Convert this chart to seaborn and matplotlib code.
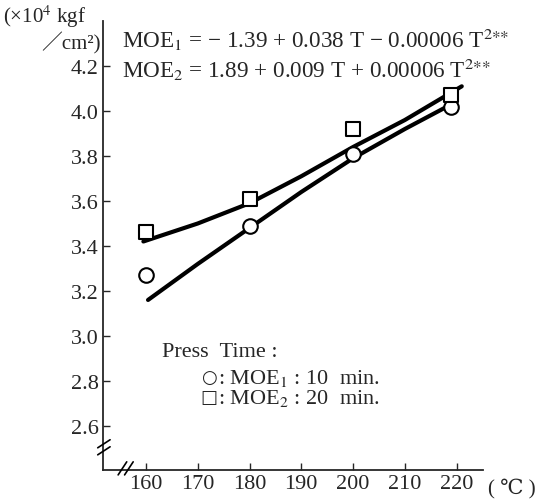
import pandas as pd
import matplotlib.pyplot as plt
import seaborn as sns

# measured points (temperature, MOE x10^4 kgf/cm2)
temps = [160, 180, 200, 219]
moe1 = [3.27, 3.49, 3.81, 4.02]
moe2 = [3.46, 3.61, 3.92, 4.07]

# regression curves
fit1_t = [160.4, 170, 180, 190, 200, 210, 219]
fit1 = [3.16, 3.32, 3.48, 3.64, 3.79, 3.92, 4.03]
fit2_t = [159.5, 170, 180, 190, 200, 210, 221]
fit2 = [3.42, 3.50, 3.59, 3.71, 3.84, 3.96, 4.11]

xticks = [160, 170, 180, 190, 200, 210, 220]
yticks = [2.6, 2.8, 3.0, 3.2, 3.4, 3.6, 3.8, 4.0, 4.2]

sns.set_style('ticks')
plt.rcParams['font.family'] = ['Liberation Serif', 'DejaVu Serif', 'Noto Sans CJK JP']
plt.rcParams['mathtext.fontset'] = 'stix'

pts = pd.DataFrame({'T': temps, 'MOE1': moe1, 'MOE2': moe2})
c1 = pd.DataFrame({'T': fit1_t, 'MOE': fit1})
c2 = pd.DataFrame({'T': fit2_t, 'MOE': fit2})

fig = plt.figure(figsize=(5.37, 5.02), dpi=100)
ax = fig.add_axes([0.1918, 0.0618, 0.7076, 0.8942])

sns.lineplot(data=c1, x='T', y='MOE', ax=ax, color='black', lw=3, sort=True)
sns.lineplot(data=c2, x='T', y='MOE', ax=ax, color='black', lw=3, sort=True)
sns.scatterplot(data=pts, x='T', y='MOE1', ax=ax, marker='o', s=110,
                facecolor='white', edgecolor='black', linewidth=1.5, zorder=5)
sns.scatterplot(data=pts, x='T', y='MOE2', ax=ax, marker='s', s=100,
                facecolor='white', edgecolor='black', linewidth=1.5, zorder=5)

ax.set_xlim(151.7, 225.1)
ax.set_ylim(2.404, 4.4)
ax.set_xticks(xticks)
ax.set_yticks(yticks)
ax.set_yticklabels([f'{v:.1f}' for v in yticks])
ax.tick_params(direction='in', length=5, width=1, labelsize=16, pad=3)
ax.set_xlabel('')
ax.set_ylabel('')
sns.despine(ax=ax)
for s in ['left', 'bottom']:
    ax.spines[s].set_linewidth(1.3)

# axis breaks
kw = dict(transform=fig.transFigure, color='black', lw=1.2, clip_on=False)
for dx in (0, 0.012):
    fig.add_artist(plt.Line2D([0.220 + dx, 0.236 + dx], [0.052, 0.078], **kw))
for dy in (0, 0.014):
    fig.add_artist(plt.Line2D([0.182, 0.205], [0.092 + dy, 0.108 + dy], **kw))

# units
fig.text(0.005, 0.966, '(×10$^4$ kgf', fontsize=15, ha='left', va='center')
fig.text(0.187, 0.914, '／cm²)', fontsize=15, ha='right', va='center',
         family=['Liberation Serif', 'Noto Sans CJK JP'])
fig.text(0.908, 0.027, '( ℃ )', fontsize=15, ha='left', va='center',
         family=['Liberation Serif', 'DejaVu Serif'])

# equations
fig.text(0.228, 0.921, r'MOE$_1$ = − 1.39 + 0.038 T − 0.00006 T$^{2{\ast}{\ast}}$',
         fontsize=16.7, ha='left', va='center')
fig.text(0.228, 0.860, r'MOE$_2$ = 1.89 + 0.009 T + 0.00006 T$^{2{\ast}{\ast}}$',
         fontsize=16.7, ha='left', va='center')

# legend text
fig.text(0.302, 0.298, 'Press  Time :', fontsize=16, ha='left', va='center')
fig.text(0.374, 0.247, '○', fontsize=13, ha='left', va='center', family='DejaVu Sans')
fig.text(0.374, 0.207, '□', fontsize=13, ha='left', va='center', family='DejaVu Sans')
fig.text(0.406, 0.247, ': MOE$_1$ : 10  min.', fontsize=16, ha='left', va='center')
fig.text(0.406, 0.207, ': MOE$_2$ : 20  min.', fontsize=16, ha='left', va='center')

fig.savefig('out.png', dpi=100)
